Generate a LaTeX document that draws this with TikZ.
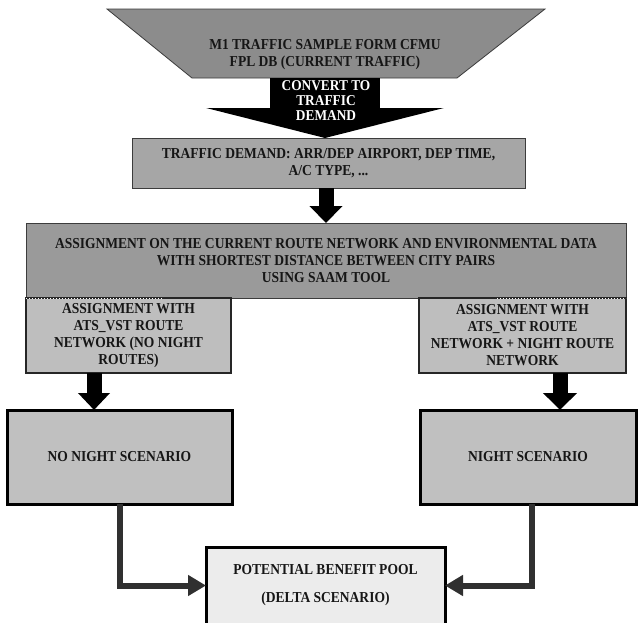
\documentclass[tikz,border=0pt]{standalone}
\usepackage{fontspec}
\newfontfamily\lblfont{Liberation Serif}[FakeStretch=0.89]
\usetikzlibrary{arrows.meta}
\definecolor{trapgray}{RGB}{140,140,140}
\definecolor{tdgray}{RGB}{166,166,166}
\definecolor{biggray}{RGB}{154,154,154}
\definecolor{subgray}{RGB}{190,190,190}
\definecolor{scengray}{RGB}{192,192,192}
\definecolor{poolgray}{RGB}{236,236,236}
\definecolor{edge}{RGB}{60,60,60}
\definecolor{txt}{RGB}{22,22,22}
\definecolor{conncol}{RGB}{48,48,48}
\tikzset{
  lbl/.style={font=\lblfont\bfseries\fontsize{15.2}{17}\selectfont, text=txt, align=center, inner sep=0pt, outer sep=0pt},
  thinbox/.style={lbl, draw=edge, line width=1pt},
  subbox/.style={lbl, draw=black!85, line width=1.5pt, fill=subgray},
  thickbox/.style={lbl, draw=black, line width=3pt},
  blockarrow/.style={draw=black, line cap=butt},
  conn/.style={draw=conncol, line width=6pt, -{Triangle[width=20pt,length=18pt]}},
  dotline/.style={draw=white, line width=1pt, dotted}
}
\begin{document}
\begin{tikzpicture}[x=1pt,y=-1pt]
\useasboundingbox (0,0) rectangle (638,622);
\fill[white] (0,0) rectangle (638,622);
\clip (0,0) rectangle (638,622);
% top trapezoid
\draw[fill=trapgray, draw=edge, line width=0.8pt] (107,9) -- (545,9) -- (457,78) -- (192,78) -- cycle;
\node[lbl] (trap) at (325,55) {M1 TRAFFIC SAMPLE FORM CFMU\\FPL DB (CURRENT TRAFFIC)};
\coordinate (trapb) at (325,78);
% traffic demand box
\node[thinbox, fill=tdgray, minimum width=393pt, minimum height=50pt] (td) at (328.5,163) {TRAFFIC DEMAND: ARR/DEP AIRPORT, DEP TIME,\\A/C TYPE, ...};
% big convert arrow
\draw[blockarrow, line width=110pt, -{Triangle[width=237pt,length=30pt]}] (trapb) -- (trapb |- td.north);
\node[lbl, text=white, font=\lblfont\bfseries\fontsize{15}{15}\selectfont] (conv) at (326,100.5) {CONVERT TO\\TRAFFIC\\DEMAND};
% big assignment box
\node[thinbox, fill=biggray, minimum width=600pt, minimum height=75pt] (big) at (326,260.5) {ASSIGNMENT ON THE CURRENT ROUTE NETWORK AND ENVIRONMENTAL DATA\\WITH SHORTEST DISTANCE BETWEEN CITY PAIRS\\USING SAAM TOOL};
\draw[blockarrow, line width=15pt, -{Triangle[width=32pt,length=17pt]}] ([xshift=-2.5pt]td.south) -- ([xshift=-2.5pt]td.south |- big.north);
% sub boxes
\node[subbox, minimum width=205pt, minimum height=75pt] (ls) at (128.5,335.5) {ASSIGNMENT WITH\\ATS\_VST ROUTE\\NETWORK (NO NIGHT\\ROUTES)};
\node[subbox, minimum width=207pt, minimum height=75pt] (rs) at (522.5,335.5) {ASSIGNMENT WITH\\ATS\_VST ROUTE\\NETWORK + NIGHT ROUTE\\NETWORK};
\draw[dotline] (26,298) -- (163,298);
\draw[dotline] (497,298) -- (626,298);
% scenario boxes
\node[thickbox, fill=scengray, minimum width=225pt, minimum height=94pt] (nn) at (119.5,457) {NO NIGHT SCENARIO};
\node[thickbox, fill=scengray, minimum width=216pt, minimum height=94pt] (ns) at (528,457) {NIGHT SCENARIO};
\draw[blockarrow, line width=15pt, -{Triangle[width=31pt,length=17pt]}] ([xshift=-34.5pt]ls.south) -- ([xshift=-34.5pt]ls.south |- nn.north);
\draw[blockarrow, line width=15pt, -{Triangle[width=33pt,length=17pt]}] ([xshift=37.5pt]rs.south) -- ([xshift=37.5pt]rs.south |- ns.north);
% pool box
\node[thickbox, fill=poolgray, minimum width=239pt, minimum height=77pt] (pb) at (325.5,585.5) {POTENTIAL BENEFIT POOL\\[11pt](DELTA SCENARIO)};
% connectors
\draw[conn] ([xshift=0.5pt]nn.south) |- (pb.west);
\draw[conn] ([xshift=4pt]ns.south) |- (pb.east);
\end{tikzpicture}
\end{document}
